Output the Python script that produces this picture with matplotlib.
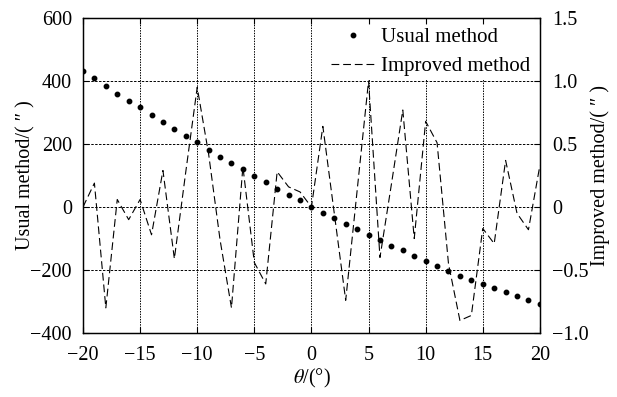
import numpy as np
import matplotlib
matplotlib.use("Agg")
import matplotlib.pyplot as plt

plt.rcParams["font.family"] = ["Liberation Serif", "DejaVu Serif"]
plt.rcParams["mathtext.fontset"] = "stix"
plt.rcParams["font.size"] = 14.5

# ---- data ----
theta = list(range(-20, 21))
usual = [431, 408, 384, 360, 337, 317, 292, 269, 247, 225,
         205, 181, 160, 140, 120, 100, 79, 57, 38, 21,
         1, -18, -36, -55, -71, -88, -105, -123, -137, -156,
         -170, -187, -202, -218, -233, -245, -257, -270, -282, -294, -308]
improved = [0.0, 0.19, -0.80, 0.06, -0.10, 0.06, -0.22, 0.29, -0.41, 0.28,
            0.95, 0.42, -0.26, -0.80, 0.32, -0.44, -0.61, 0.28, 0.16, 0.12,
            0.0, 0.64, -0.05, -0.74, 0.13, 1.0, -0.40, 0.18, 0.77, -0.25,
            0.68, 0.51, -0.45, -0.90, -0.86, -0.17, -0.29, 0.37, -0.05, -0.18, 0.33]

left_ticks = [-400, -200, 0, 200, 400, 600]
right_ticks = [-1.0, -0.5, 0, 0.5, 1.0, 1.5]
right_labels = ["\u22121.0", "\u22120.5", "0", "0.5", "1.0", "1.5"]
x_ticks = [-20, -15, -10, -5, 0, 5, 10, 15, 20]

fig = plt.figure(figsize=(6.17, 3.97), dpi=100)
ax = fig.add_axes([0.1345, 0.161, 0.7405, 0.7937])
ax2 = ax.twinx()

ax.plot(theta, usual, "o", color="black", ms=3.2, label="Usual method", zorder=3)
ax2.plot(theta, improved, color="black", lw=0.8, dashes=(7, 3.5), label="Improved method")

ax.set_xlim(-20, 20)
ax.set_ylim(-400, 600)
ax2.set_ylim(-1.0, 1.5)
ax.set_xticks(x_ticks)
ax.set_yticks(left_ticks)
ax2.set_yticks(right_ticks)
ax2.set_yticklabels(right_labels)

for x in x_ticks[1:-1]:
    ax.axvline(x, color="black", lw=0.7, ls=(0, (1.5, 1.2)), zorder=1)
for y in left_ticks[1:-1]:
    ax.axhline(y, color="black", lw=0.7, ls=(0, (2.5, 1.5)), zorder=1)

ax.tick_params(axis="x", direction="in", top=True, length=4, width=0.8, pad=9)
ax.tick_params(axis="y", direction="in", length=4, width=0.8, pad=8)
ax2.tick_params(direction="in", length=4, width=0.8, pad=9)
for a in (ax, ax2):
    for s in a.spines.values():
        s.set_linewidth(0.9)

ax.set_xlabel(r"$\theta$/(°)", labelpad=2)
ax.set_ylabel("Usual method/( \u2033 )", labelpad=-4)
ax2.set_ylabel("Improved method/( \u2033 )", labelpad=1)

h1, l1 = ax.get_legend_handles_labels()
h2, l2 = ax2.get_legend_handles_labels()
leg = ax2.legend(h1 + h2, l1 + l2, loc="upper right", frameon=True, fancybox=False,
                 edgecolor="white", facecolor="white", framealpha=1,
                 borderpad=0.1, handlelength=2.1, handletextpad=0.3,
                 labelspacing=0.45, borderaxespad=0.35, fontsize=15)

fig.savefig("out.png", dpi=100)
